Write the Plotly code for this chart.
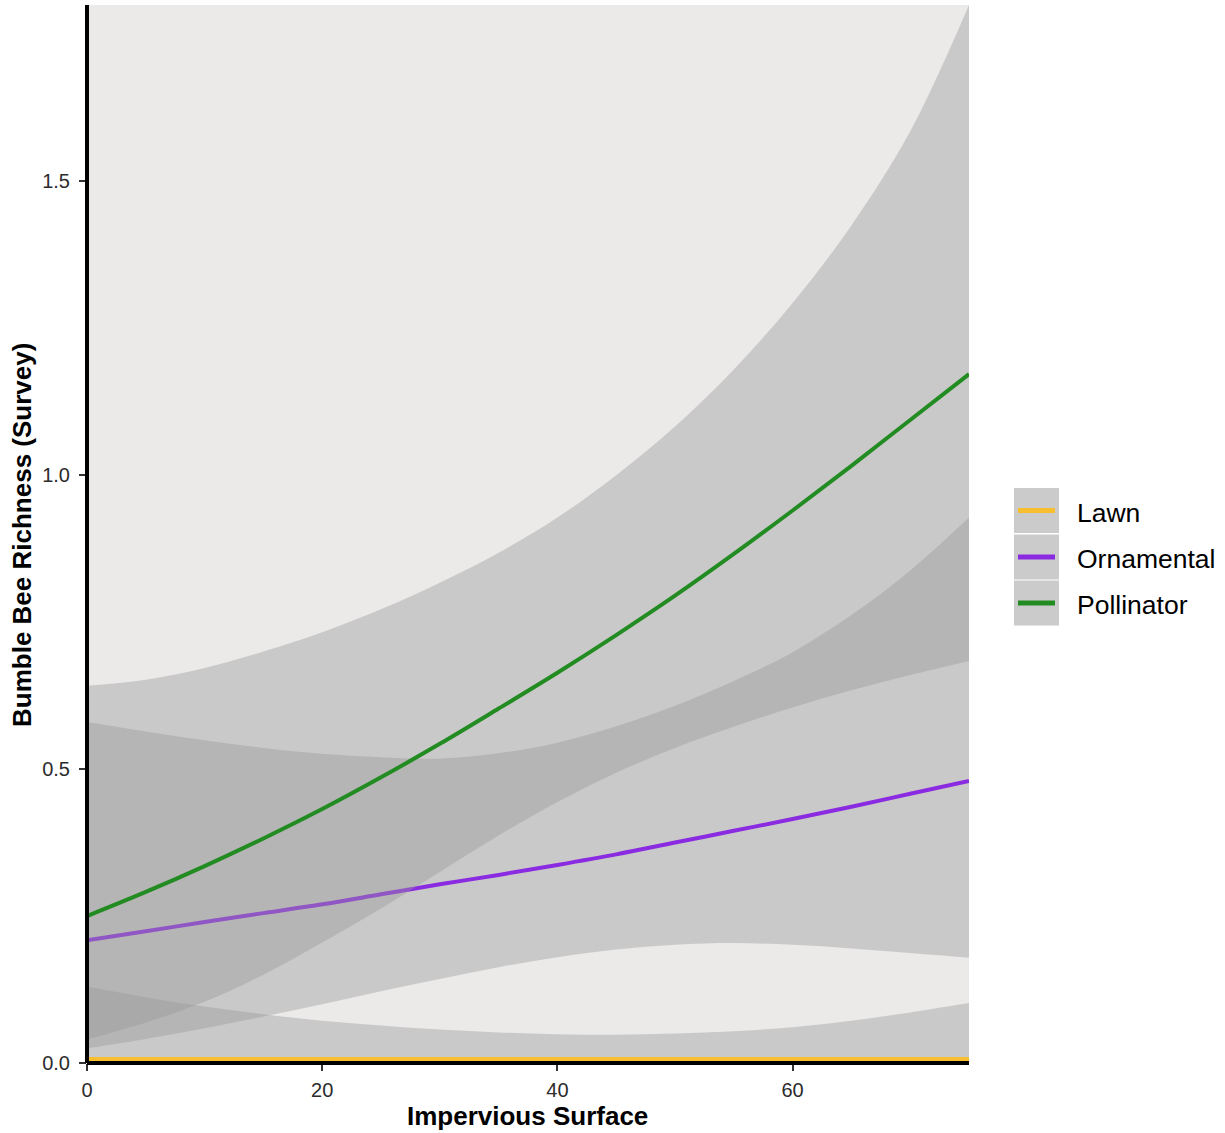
import plotly.graph_objects as go

# Impervious surface (%) at which fitted values were read
impervious = [0, 5, 10, 15, 20, 25, 30, 35, 40, 45, 50, 55, 60, 65, 70, 75]

# Lawn fit and confidence band
lawn_fit = [0.007] * 16
lawn_low = [0.0] * 16
lawn_high = [0.130, 0.112, 0.096, 0.083, 0.072, 0.064, 0.057, 0.052,
             0.049, 0.048, 0.050, 0.054, 0.061, 0.072, 0.086, 0.102]

# Ornamental fit and confidence band
orn_fit = [0.209, 0.224, 0.240, 0.255, 0.270, 0.287, 0.304, 0.320,
           0.337, 0.355, 0.375, 0.395, 0.415, 0.436, 0.458, 0.480]
orn_low = [0.025, 0.041, 0.059, 0.079, 0.100, 0.122, 0.143, 0.163,
           0.180, 0.193, 0.201, 0.204, 0.201, 0.195, 0.187, 0.179]
orn_high = [0.580, 0.564, 0.549, 0.536, 0.526, 0.520, 0.518, 0.527,
            0.545, 0.573, 0.608, 0.650, 0.699, 0.762, 0.838, 0.928]

# Pollinator fit and confidence band
pol_fit = [0.250, 0.291, 0.335, 0.382, 0.432, 0.486, 0.543, 0.603,
           0.664, 0.728, 0.795, 0.866, 0.940, 1.016, 1.094, 1.172]
pol_low = [0.040, 0.069, 0.104, 0.150, 0.205, 0.263, 0.325, 0.387,
           0.444, 0.494, 0.536, 0.572, 0.605, 0.634, 0.660, 0.684]
pol_high = [0.642, 0.652, 0.672, 0.700, 0.733, 0.772, 0.817, 0.868,
            0.928, 1.000, 1.083, 1.180, 1.293, 1.425, 1.585, 1.800]

garden_types = ["Lawn", "Ornamental", "Pollinator"]
line_colors = ["#F7BE2F", "#8A2BE2", "#228B22"]
band_fill = "rgba(153,153,153,0.4)"

x_ticks = [0, 20, 40, 60]
y_ticks = [0.0, 0.5, 1.0, 1.5]

fits = [lawn_fit, orn_fit, pol_fit]
lows = [lawn_low, orn_low, pol_low]
highs = [lawn_high, orn_high, pol_high]

fig = go.Figure()
for name, col, fit, lo, hi in zip(garden_types, line_colors, fits, lows, highs):
    fig.add_trace(go.Scatter(x=impervious, y=lo, mode="lines",
                             line=dict(width=0, shape="spline"),
                             showlegend=False, hoverinfo="skip"))
    fig.add_trace(go.Scatter(x=impervious, y=hi, mode="lines", fill="tonexty",
                             fillcolor=band_fill,
                             line=dict(width=0, shape="spline"),
                             showlegend=False, hoverinfo="skip"))
    fig.add_trace(go.Scatter(x=impervious, y=fit, mode="lines", name=name,
                             line=dict(color=col, width=4, shape="spline"),
                             showlegend=False))

# plot-area geometry in pixels, used to place legend keys and titles
W, H = 1225, 1133
L, R, T, B = 87, 256, 5, 70
pw, ph = W - L - R, H - T - B


def px_x(px):
    return (px - L) / pw


def px_y(py):
    return (H - B - py) / ph


shapes = [
    # axis lines centred on the panel edges
    dict(type="line", xref="paper", yref="paper", x0=0, x1=1, y0=0, y1=0,
         line=dict(color="black", width=4), layer="above"),
    dict(type="line", xref="paper", yref="paper", x0=0, x1=0, y0=0, y1=1,
         line=dict(color="black", width=4), layer="above"),
]
annotations = []

# legend keys: grey boxes with coloured line segments
key_tops = [488, 534.5, 580.5]
key_h = 45
for top, name, col in zip(key_tops, garden_types, line_colors):
    shapes.append(dict(type="rect", xref="paper", yref="paper",
                       x0=px_x(1014), x1=px_x(1059),
                       y0=px_y(top + key_h), y1=px_y(top),
                       fillcolor="#CBCBCB", line=dict(width=0), layer="above"))
    cy = top + key_h / 2
    shapes.append(dict(type="line", xref="paper", yref="paper",
                       x0=px_x(1018), x1=px_x(1055), y0=px_y(cy), y1=px_y(cy),
                       line=dict(color=col, width=5), layer="above"))
    annotations.append(dict(text=name, xref="paper", yref="paper",
                            x=px_x(1075), y=px_y(cy + 2), xanchor="left",
                            yanchor="middle", showarrow=False,
                            font=dict(family="Liberation Sans", size=26.5,
                                      color="black")))

# axis titles
annotations.append(dict(text="<b>Impervious Surface</b>", xref="paper",
                        yref="paper", x=px_x(527), y=px_y(1116),
                        xanchor="center", yanchor="middle", showarrow=False,
                        font=dict(family="Liberation Sans", size=26,
                                  color="black")))
annotations.append(dict(text="<b>Bumble Bee Richness (Survey)</b>",
                        xref="paper", yref="paper", x=px_x(22), y=px_y(535),
                        xanchor="center", yanchor="middle", textangle=-90,
                        showarrow=False,
                        font=dict(family="Liberation Sans", size=26,
                                  color="black")))

tick_font = dict(family="Liberation Sans", size=20, color="#2B2B2B")

fig.update_layout(
    width=W, height=H,
    margin=dict(l=L, r=R, t=T, b=B, pad=0),
    paper_bgcolor="white",
    plot_bgcolor="#ECE9E9",
    showlegend=False,
    shapes=shapes,
    annotations=annotations,
    xaxis=dict(range=[0, 75], tickvals=x_ticks, ticktext=[str(v) for v in x_ticks],
               ticks="outside", ticklen=7, tickwidth=2, tickcolor="#333333",
               showgrid=False, zeroline=False, showline=False,
               tickfont=tick_font, ticklabelstandoff=2),
    yaxis=dict(range=[0, 1.8], tickvals=y_ticks,
               ticktext=[f"{v:.1f}" for v in y_ticks],
               ticks="outside", ticklen=7, tickwidth=2, tickcolor="#333333",
               showgrid=False, zeroline=False, showline=False,
               tickfont=tick_font, ticklabelstandoff=5),
)

fig.write_html("out.html")
